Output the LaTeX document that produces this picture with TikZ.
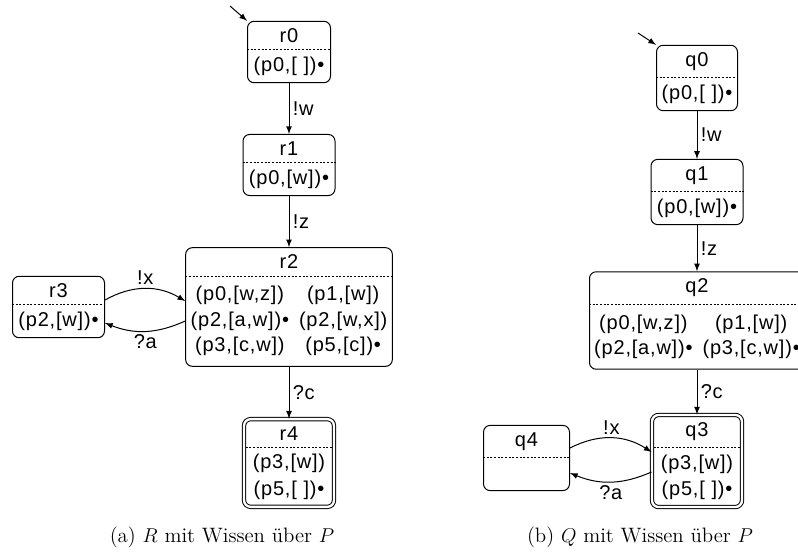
\documentclass[tikz,border=0pt]{standalone}
\usepackage{fontspec}
\newfontfamily\statefont[LetterSpace=4]{Liberation Sans}
\usepackage{tikz}
\usetikzlibrary{shapes,positioning,arrows}

\begin{document}
\begin{tikzpicture}[x=0.6pt, y=-0.6pt,
  state/.style={rectangle split, rectangle split parts=2, rectangle split draw splits=false, draw, rounded corners=4pt, line width=0.6pt, align=center, inner xsep=2pt, inner ysep=4pt, font=\statefont\fontsize{12}{16}\selectfont\renewcommand{\arraystretch}{0.95}},
  final/.style={state, double, double distance=1.4pt},
  divider/.style={dash pattern=on 1.2pt off 1pt, line width=0.4pt},
  arrow/.style={->, >=latex, line width=0.6pt},
  lbl/.style={font=\statefont\fontsize{12}{14}\selectfont, inner sep=2pt},
  caption/.style={font=\fontsize{12.5}{15}\selectfont}
]
\useasboundingbox (0,0) rectangle (798,556);

% (a) R with knowledge about P
\node[state, text width=45.8pt] (r0) at (289,52) {r0 \nodepart{two}(p0,[ ])\textbullet};
\node[state, text width=51.2pt] (r1) at (289,165) {r1 \nodepart{two}(p0,[w])\textbullet};
\node[state, text width=120pt] (r2) at (289,307) {r2 \nodepart{two}\begin{tabular}{@{}c@{\hspace{6pt}}c@{}}
  (p0,[w,z]) & (p1,[w])\\
  (p2,[a,w])\textbullet & (p2,[w,x])\\
  (p3,[c,w]) & (p5,[c])\textbullet
\end{tabular}};
\node[state, text width=51.2pt] (r3) at (58.5,307) {r3 \nodepart{two}(p2,[w])\textbullet};
\node[final, text width=50pt] (r4) at (289,463) {r4 \nodepart{two}(p3,[w])\\(p5,[ ])\textbullet};
\coordinate (r0in) at (230,6);

\draw[divider] (r0.text split west) -- (r0.text split east);
\draw[divider] (r1.text split west) -- (r1.text split east);
\draw[divider] (r2.text split west) -- (r2.text split east);
\draw[divider] (r3.text split west) -- (r3.text split east);
\draw[divider, shorten <=1.3pt, shorten >=1.3pt] (r4.text split west) -- (r4.text split east);

\draw[arrow] (r0in) -- (r0.north west);
\draw[arrow] (r0) -- (r1) node[lbl, midway, right] {!w};
\draw[arrow] (r1) -- (r2) node[lbl, midway, right] {!z};
\draw[arrow] (r2) -- (r4) node[lbl, midway, right] {?c};
\draw[arrow] ([yshift=4.2pt]r3.east) to[bend left=30] node[lbl, above] {!x} ([yshift=3.6pt]r2.west);
\draw[arrow] ([yshift=-8.4pt]r2.west) to[bend left=23] node[lbl, below] {?a} ([yshift=-9.6pt]r3.east);

% (b) Q with knowledge about P
\node[state, text width=44.6pt] (q0) at (697,78) {q0 \nodepart{two}(p0,[ ])\textbullet};
\node[state, text width=51.2pt] (q1) at (697,192) {q1 \nodepart{two}(p0,[w])\textbullet};
\node[state, text width=125pt] (q2) at (697,320.5) {q2 \nodepart{two}\begin{tabular}{@{}c@{\hspace{6pt}}c@{}}
  (p0,[w,z]) & (p1,[w])\\
  (p2,[a,w])\textbullet & (p3,[c,w])\textbullet
\end{tabular}};
\node[final, text width=50pt] (q3) at (697,461) {q3 \nodepart{two}(p3,[w])\\(p5,[ ])\textbullet};
\node[state, text width=47.6pt] (q4) at (526.5,458) {q4 \nodepart{two}\vphantom{(p0,[ ])}};
\coordinate (q0in) at (638,33);

\draw[divider] (q0.text split west) -- (q0.text split east);
\draw[divider] (q1.text split west) -- (q1.text split east);
\draw[divider] (q2.text split west) -- (q2.text split east);
\draw[divider, shorten <=1.3pt, shorten >=1.3pt] (q3.text split west) -- (q3.text split east);
\draw[divider] (q4.text split west) -- (q4.text split east);

\draw[arrow] (q0in) -- (q0.north west);
\draw[arrow] (q0) -- (q1) node[lbl, midway, right] {!w};
\draw[arrow] (q1) -- (q2) node[lbl, midway, right] {!z};
\draw[arrow] (q2) -- (q3) node[lbl, midway, right] {?c};
\draw[arrow] ([yshift=6pt]q4.east) to[bend left=30] node[lbl, above] {!x} ([yshift=5.4pt]q3.west);
\draw[arrow] ([yshift=-6.6pt]q3.west) to[bend left=23] node[lbl, below] {?a} ([yshift=-9pt]q4.east);

% captions
\node[caption] (capa) at (222,537) {(a) $R$ mit Wissen über $P$};
\node[caption] (capb) at (640,537) {(b) $Q$ mit Wissen über $P$};
\end{tikzpicture}
\end{document}
